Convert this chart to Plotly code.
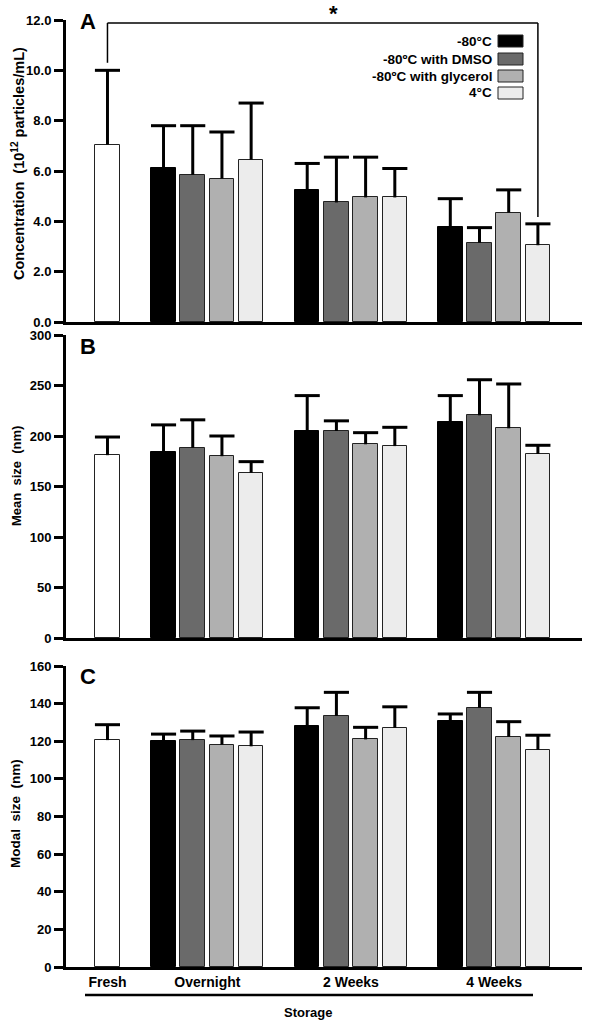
import plotly.graph_objects as go

# ---------------- data ----------------
groups = ["Fresh", "Overnight", "2 Weeks", "4 Weeks"]
series = ["-80°C", "-80ºC with DMSO", "-80ºC with glycerol", "4°C"]
series_colors = ["#000000", "#6a6a6a", "#b0b0b0", "#ececec"]
fresh_color = "#ffffff"

# Panel A: concentration (10^12 particles/mL)
conc_fresh = 7.05
conc_fresh_err = 2.95
conc_m80 = [6.10, 5.25, 3.78]
conc_m80_err = [1.70, 1.05, 1.12]
conc_dmso = [5.85, 4.75, 3.15]
conc_dmso_err = [1.95, 1.80, 0.60]
conc_gly = [5.70, 4.95, 4.35]
conc_gly_err = [1.85, 1.60, 0.90]
conc_4c = [6.45, 4.95, 3.05]
conc_4c_err = [2.25, 1.15, 0.85]

# Panel B: mean size (nm)
mean_fresh = 181
mean_fresh_err = 18
mean_m80 = [184.5, 205.3, 213.9]
mean_m80_err = [26.5, 34.7, 26.1]
mean_dmso = [188.4, 205.0, 220.5]
mean_dmso_err = [27.6, 10.0, 35.2]
mean_gly = [180.0, 191.8, 207.6]
mean_gly_err = [20.0, 11.5, 43.9]
mean_4c = [163.7, 190.0, 182.2]
mean_4c_err = [10.9, 18.6, 8.6]

# Panel C: modal size (nm)
modal_fresh = 120.6
modal_fresh_err = 8.2
modal_m80 = [120.3, 128.2, 130.9]
modal_m80_err = [3.5, 9.6, 3.6]
modal_dmso = [120.6, 133.5, 137.8]
modal_dmso_err = [4.8, 12.5, 8.2]
modal_gly = [118.2, 121.0, 122.4]
modal_gly_err = [4.6, 6.4, 8.0]
modal_4c = [117.3, 127.2, 115.5]
modal_4c_err = [7.6, 11.1, 7.7]

# ---------------- layout helpers ----------------
W, H = 590, 1025
ML, MR, MT, MB = 66, 8, 20, 58
PW, PH = W - ML - MR, H - MT - MB


def px_x(x):
    return (x - ML) / PW


def px_y(y):
    return (H - MB - y) / PH


group_centers = [0.0, 3.42, 8.34, 13.24]
offsets = [-1.5, -0.5, 0.5, 1.5]
bar_w = 0.84
cap_hw = 0.43
FONT = "Arial, Liberation Sans, sans-serif"

panels = [
    dict(fresh=conc_fresh, fresh_err=conc_fresh_err,
         vals=[conc_m80, conc_dmso, conc_gly, conc_4c],
         errs=[conc_m80_err, conc_dmso_err, conc_gly_err, conc_4c_err]),
    dict(fresh=mean_fresh, fresh_err=mean_fresh_err,
         vals=[mean_m80, mean_dmso, mean_gly, mean_4c],
         errs=[mean_m80_err, mean_dmso_err, mean_gly_err, mean_4c_err]),
    dict(fresh=modal_fresh, fresh_err=modal_fresh_err,
         vals=[modal_m80, modal_dmso, modal_gly, modal_4c],
         errs=[modal_m80_err, modal_dmso_err, modal_gly_err, modal_4c_err]),
]

fig = go.Figure()

for k, p in enumerate(panels):
    xa = "x" if k == 0 else f"x{k+1}"
    ya = "y" if k == 0 else f"y{k+1}"
    ex, ey = [], []
    # fresh bar
    fig.add_trace(go.Bar(x=[group_centers[0]], y=[p["fresh"]], width=bar_w,
                         marker=dict(color=fresh_color, line=dict(color="#222222", width=1)),
                         xaxis=xa, yaxis=ya, showlegend=False, name="Fresh"))
    xc = group_centers[0]
    top = p["fresh"] + p["fresh_err"]
    ex += [xc, xc, None, xc - cap_hw, xc + cap_hw, None]
    ey += [p["fresh"], top, None, top, top, None]
    for i in range(4):
        xs = [c + offsets[i] for c in group_centers[1:]]
        fig.add_trace(go.Bar(x=xs, y=p["vals"][i], width=bar_w,
                             marker=dict(color=series_colors[i],
                                         line=dict(color="#222222" if i else "#000000", width=1)),
                             xaxis=xa, yaxis=ya, showlegend=False, name=series[i]))
        for x, v, e in zip(xs, p["vals"][i], p["errs"][i]):
            t = v + e
            ex += [x, x, None, x - cap_hw, x + cap_hw, None]
            ey += [v, t, None, t, t, None]
    fig.add_trace(go.Scatter(x=ex, y=ey, mode="lines", line=dict(color="black", width=3),
                             xaxis=xa, yaxis=ya, showlegend=False, hoverinfo="skip"))

xrange = [-1.42, 16.25]
axis_common = dict(showline=True, linewidth=3, linecolor="black", showgrid=False,
                   zeroline=False, mirror=False)
ytick = dict(ticks="outside", ticklen=9, tickwidth=3, tickcolor="black",
             tickfont=dict(family=FONT, size=13, color="black", weight="bold"))

domains = [(px_y(322), 1.0), (px_y(638), px_y(335)), (0.0, px_y(666))]
yranges = [[0, 12], [0, 300], [0, 160]]
dticks = [2, 50, 20]
tickfmt = [".1f", "", ""]

layout = dict(width=W, height=H, margin=dict(l=ML, r=MR, t=MT, b=MB),
              paper_bgcolor="white", plot_bgcolor="white", barmode="overlay",
              bargap=0, showlegend=False)
for k in range(3):
    xn = "xaxis" if k == 0 else f"xaxis{k+1}"
    yn = "yaxis" if k == 0 else f"yaxis{k+1}"
    ya = "y" if k == 0 else f"y{k+1}"
    xa = "x" if k == 0 else f"x{k+1}"
    xdict = dict(axis_common, range=xrange, anchor=ya, domain=[0, 1], ticks="")
    if k == 2:
        xdict.update(showticklabels=True, tickvals=group_centers, ticktext=groups,
                     tickfont=dict(family=FONT, size=14, color="black", weight="bold"))
    else:
        xdict.update(showticklabels=False)
    layout[xn] = xdict
    layout[yn] = dict(axis_common, **ytick, range=yranges[k], anchor=xa,
                      domain=list(domains[k]), dtick=dticks[k], tickformat=tickfmt[k])
fig.update_layout(**layout)

# significance bracket (panel A)
xl = group_centers[0]
xr = group_centers[3] + offsets[3]
yl = conc_fresh + conc_fresh_err + 0.3
yr = conc_4c[2] + conc_4c_err[2] + 0.27
ytop = 11.88
for (x0, y0, x1, y1) in [(xl, yl, xl, ytop), (xl, ytop, xr, ytop), (xr, ytop, xr, yr)]:
    fig.add_shape(type="line", xref="x", yref="y", x0=x0, y0=y0, x1=x1, y1=y1,
                  line=dict(color="black", width=1.5))
fig.add_annotation(xref="paper", yref="paper", x=px_x(333), y=px_y(14), text="*",
                   showarrow=False, font=dict(family=FONT, size=22, color="black", weight="bold"),
                   xanchor="center", yanchor="middle")

# legend (manual: text, then swatch on the right)
leg_rows = [41, 59, 76, 93]
for i, name in enumerate(series):
    yc = leg_rows[i]
    fig.add_shape(type="rect", xref="paper", yref="paper",
                  x0=px_x(498), x1=px_x(523), y0=px_y(yc + 6), y1=px_y(yc - 6),
                  fillcolor=series_colors[i], line=dict(color="#222222", width=1))
    fig.add_annotation(xref="paper", yref="paper", x=px_x(494), y=px_y(yc), text=name,
                       showarrow=False, xanchor="right", yanchor="middle",
                       font=dict(family=FONT, size=13.5, color="black", weight="bold"))

# panel letters
for letter, yc in zip(["A", "B", "C"], [21, 346, 676]):
    fig.add_annotation(xref="paper", yref="paper", x=px_x(88), y=px_y(yc), text=letter,
                       showarrow=False, xanchor="center", yanchor="middle",
                       font=dict(family=FONT, size=22, color="black", weight="bold"))

# y-axis titles
titles = ["Concentration  (10<sup>12</sup> particles/mL)", "Mean  size  (nm)", "Modal  size  (nm)"]
tx = [18, 17, 15]
ty = [164, 476, 814]
tsz = [14.5, 13, 13.5]
for t, x, y, s in zip(titles, tx, ty, tsz):
    fig.add_annotation(xref="paper", yref="paper", x=px_x(x), y=px_y(y), text=t,
                       showarrow=False, textangle=-90, xanchor="center", yanchor="middle",
                       font=dict(family=FONT, size=s, color="black", weight="bold"))

# storage line and label
fig.add_shape(type="line", xref="paper", yref="paper", x0=px_x(85), x1=px_x(533),
              y0=px_y(995), y1=px_y(995), line=dict(color="black", width=2.5))
fig.add_annotation(xref="paper", yref="paper", x=px_x(308), y=px_y(1013), text="Storage",
                   showarrow=False, xanchor="center", yanchor="middle",
                   font=dict(family=FONT, size=13, color="black", weight="bold"))

fig.write_html("out.html", config={"displayModeBar": False},
               post_script="document.body.style.margin='0';document.body.style.overflow='hidden';")
